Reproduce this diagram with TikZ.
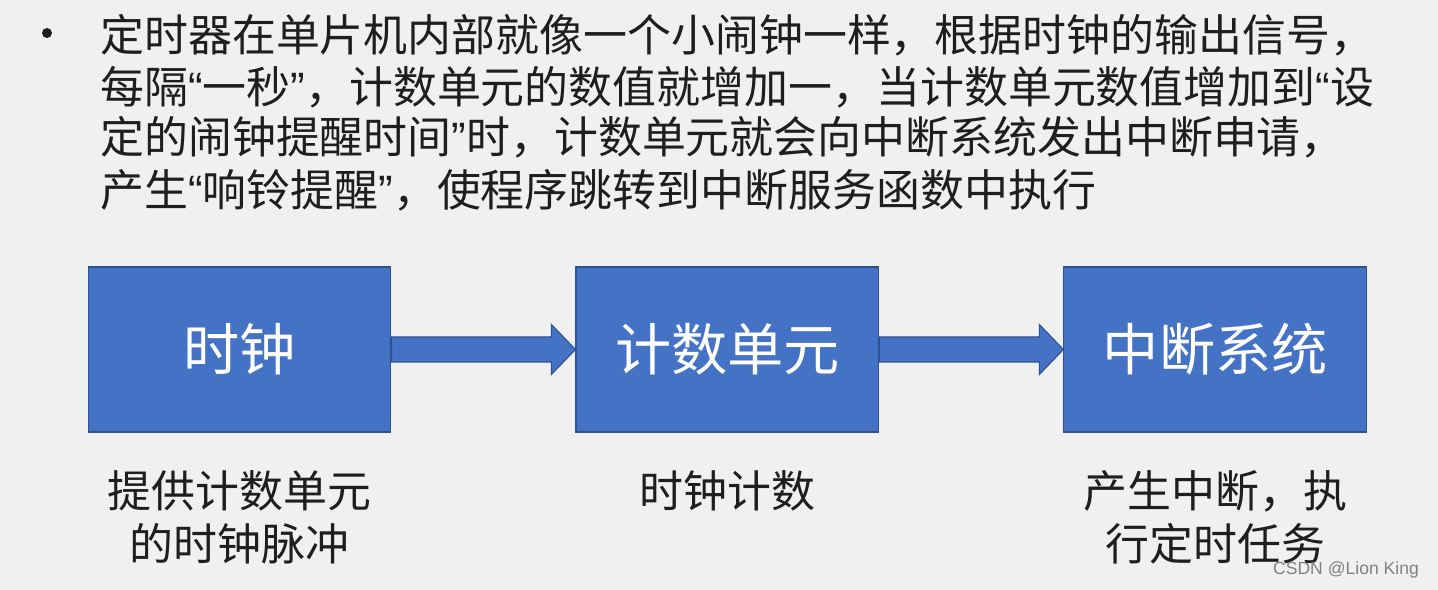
\documentclass[tikz,border=0pt]{standalone}
\usepackage{fontspec}
\setmainfont{Noto Sans CJK SC}
\newfontfamily\latin{Liberation Sans}
\usetikzlibrary{math, calc, positioning}
\definecolor{bg}{HTML}{F0F0F0}
\definecolor{txt}{HTML}{1E1E1E}
\definecolor{boxblue}{HTML}{4472C4}
\definecolor{boxedge}{HTML}{2F528F}
\newcommand\oq{{\latin “}}
\newcommand\cq{{\latin ”}}

\begin{document}
\begin{tikzpicture}[x=0.02cm, y=-0.02cm,
    box/.style={draw=boxedge, line width=0.6pt, fill=boxblue, text=white,
        minimum width=6.06cm, minimum height=3.3cm, font=\fontsize{32}{38}\selectfont},
    note/.style={text=txt, align=center, inner sep=0pt, font=\fontsize{25}{30}\selectfont},
    line/.style={text=txt, anchor=west, inner sep=0pt, font=\fontsize{25}{30}\selectfont}]
    \tikzmath{
        \shaft=12.5;
        \headlen=24;
        \headwid=25;
    }
    \fill [bg] (0,0) rectangle (1438,590);
    \useasboundingbox (0,0) rectangle (1438,590);

    % bullet text
    \node (dot) [circle, fill=txt, inner sep=0pt, minimum size=0.2cm] at (47,33) {};
    \node (l1) [line] at (100,35) {定时器在单片机内部就像一个小闹钟一样，根据时钟的输出信号，};
    \node (l2) [line] at (100,87) {每隔\oq 一秒\cq ，计数单元的数值就增加一，当计数单元数值增加到\oq 设};
    \node (l3) [line] at (100,137) {定的闹钟提醒时间\cq 时，计数单元就会向中断系统发出中断申请，};
    \node (l4) [line] at (100,190) {产生\oq 响铃提醒\cq ，使程序跳转到中断服务函数中执行};

    % boxes
    \node (clk) [box] at (239.5,349.5) {时钟};
    \node (cnt) [box, right=3.68cm of clk] {计数单元};
    \node (irq) [box, right=3.68cm of cnt] {中断系统};

    % block arrows
    \foreach \a/\b in {clk/cnt, cnt/irq}
        \filldraw [fill=boxblue, draw=boxedge, line width=0.6pt]
        ($(\a.east)+(0,-\shaft)$) -- ($(\b.west)+(-\headlen,-\shaft)$)
        -- ($(\b.west)+(-\headlen,-\headwid)$) -- (\b.west)
        -- ($(\b.west)+(-\headlen,\headwid)$) -- ($(\b.west)+(-\headlen,\shaft)$)
        -- ($(\a.east)+(0,\shaft)$) -- cycle;

    % notes
    \node (clknote) [note, below=0.76cm of clk] {提供计数单元\\的时钟脉冲};
    \node (cntnote) [note, below=0.76cm of cnt] {时钟计数};
    \node (irqnote) [note, below=0.76cm of irq] {产生中断，执\\行定时任务};

    \node (mark) [text=gray, font=\latin\fontsize{10}{12}\selectfont] at (1346,570) {CSDN @Lion King};
\end{tikzpicture}
\end{document}
